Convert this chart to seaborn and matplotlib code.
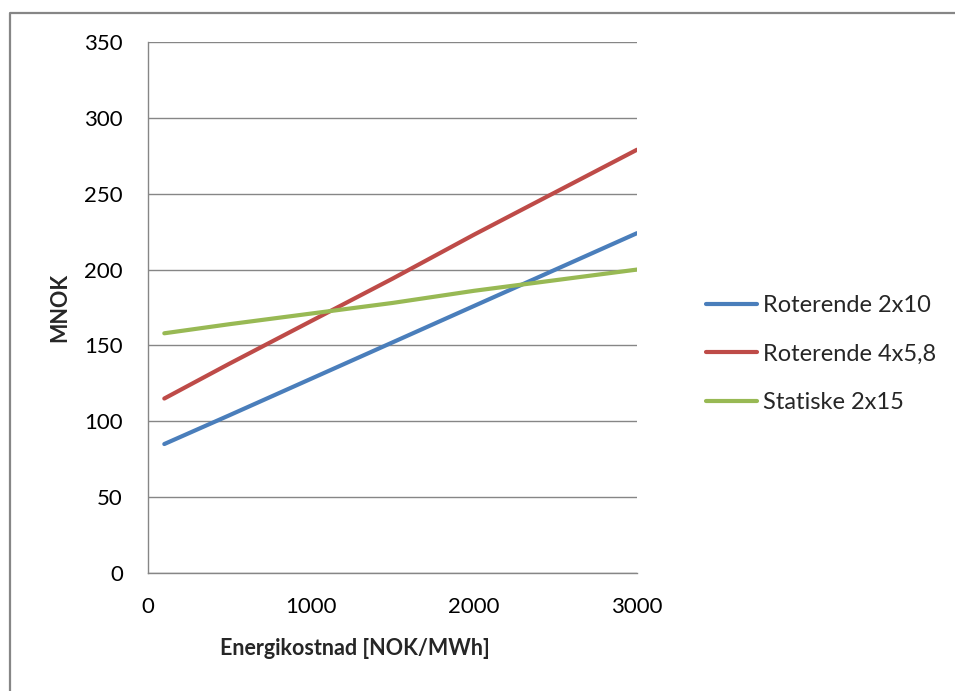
import matplotlib
matplotlib.use("Agg")
import matplotlib.pyplot as plt
import seaborn as sns
import pandas as pd
from matplotlib.lines import Line2D

# Data
energy_cost = [100, 500, 1000, 1500, 2000, 2500, 3000]
roterende_2x10 = [85, 104, 128, 152, 176, 200, 224]
roterende_4x58 = [115, 138, 166, 194, 223, 251, 279]
statiske_2x15 = [158, 164, 171, 178, 186, 193, 200]
series_names = ["Roterende 2x10", "Roterende 4x5,8", "Statiske 2x15"]
colors = ["#4A7EBB", "#BE4B48", "#98B954"]
y_ticks = [0, 50, 100, 150, 200, 250, 300, 350]
x_ticks = [0, 1000, 2000, 3000]

df = pd.concat([
    pd.DataFrame({"x": energy_cost, "y": vals, "series": name})
    for name, vals in zip(series_names, [roterende_2x10, roterende_4x58, statiske_2x15])
])

sns.set_theme(style="white")
plt.rcParams['font.family'] = ['Lato', 'DejaVu Sans']

fig = plt.figure(figsize=(9.55, 6.91), dpi=100)
ax = fig.add_axes([148/955, 1-573/691, (637-148)/955, (573-42)/691])

sns.lineplot(data=df, x="x", y="y", hue="series", palette=colors,
             linewidth=3.0, ax=ax, legend=True, solid_capstyle="round")

grid_c = "#868686"
ax.set_xlim(0, 3000)
ax.set_ylim(0, 350)
ax.set_xticks(x_ticks)
ax.set_yticks(y_ticks)
ax.yaxis.grid(True, color=grid_c, linewidth=1.0)
ax.set_axisbelow(True)
for s in ["top", "right"]:
    ax.spines[s].set_visible(False)
for s in ["left", "bottom"]:
    ax.spines[s].set_color(grid_c)
    ax.spines[s].set_linewidth(1.0)
ax.tick_params(axis="both", length=0, labelsize=16, colors="#000000")
ax.tick_params(axis="y", pad=18)
ax.tick_params(axis="x", pad=17)

ax.set_xlabel("Energikostnad [NOK/MWh]", fontsize=15.5, fontweight="bold")
ax.set_ylabel("MNOK", fontsize=15.5, fontweight="bold")
ax.xaxis.set_label_coords(0.423, -0.123)
ax.yaxis.set_label_coords(-0.16, 0.5)

handles, labels = ax.get_legend_handles_labels()
leg = ax.legend(handles, labels, loc="center left", bbox_to_anchor=(706/955, 1-354/691),
                bbox_transform=fig.transFigure, frameon=False, fontsize=17,
                handlelength=2.16, handletextpad=0.235, labelspacing=1.17, borderpad=0,
                borderaxespad=0)
for line in leg.get_lines():
    line.set_linewidth(3.0)

# outer chart border
x0 = 9.5/955
y0 = 1 - 12.5/691
fig.add_artist(Line2D([x0, x0, 1.0], [0.0, y0, y0], transform=fig.transFigure,
                      color=grid_c, linewidth=1.6))

fig.savefig("out.png", dpi=100)
